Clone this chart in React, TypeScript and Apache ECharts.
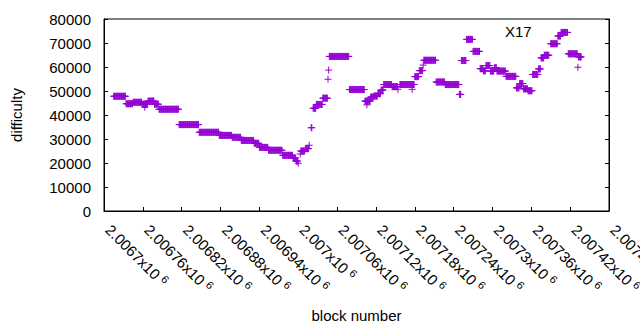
import React, { useEffect, useRef } from "react";
import * as echarts from "echarts";

// Runs of consecutive blocks sharing one difficulty: [firstBlock, lastBlock, difficulty]
const runs: [number, number, number][] = [
  [2006715, 2006733, 47800],
  [2006734, 2006744, 44700],
  [2006745, 2006758, 45300],
  [2006759, 2006767, 44500],
  [2006768, 2006777, 45800],
  [2006778, 2006784, 44500],
  [2006785, 2006815, 42400],
  [2006816, 2006846, 36000],
  [2006847, 2006877, 32800],
  [2006878, 2006897, 31500],
  [2006898, 2006911, 30700],
  [2006912, 2006931, 29400],
  [2006932, 2006939, 28200],
  [2006940, 2006953, 26500],
  [2006954, 2006975, 25300],
  [2006976, 2006991, 23200],
  [2006992, 2006996, 22000],
  [2006997, 2006999, 20800],
  [2007004, 2007010, 25000],
  [2007011, 2007016, 26000],
  [2007020, 2007021, 34700],
  [2007023, 2007027, 42800],
  [2007028, 2007037, 44400],
  [2007038, 2007045, 47000],
  [2007048, 2007078, 64400],
  [2007079, 2007102, 50600],
  [2007103, 2007111, 45800],
  [2007112, 2007116, 47500],
  [2007117, 2007122, 47900],
  [2007123, 2007127, 48900],
  [2007128, 2007131, 50400],
  [2007132, 2007144, 52700],
  [2007145, 2007153, 51800],
  [2007157, 2007179, 52700],
  [2007180, 2007186, 56000],
  [2007187, 2007192, 58500],
  [2007194, 2007212, 62800],
  [2007213, 2007226, 53750],
  [2007227, 2007248, 52700],
  [2007249, 2007251, 48600],
  [2007252, 2007259, 62700],
  [2007260, 2007269, 71500],
  [2007270, 2007280, 66500],
  [2007281, 2007285, 59300],
  [2007286, 2007289, 58400],
  [2007290, 2007296, 60600],
  [2007297, 2007302, 58300],
  [2007303, 2007306, 59700],
  [2007307, 2007320, 58300],
  [2007321, 2007336, 56100],
  [2007337, 2007341, 51300],
  [2007342, 2007347, 53100],
  [2007348, 2007354, 50900],
  [2007355, 2007361, 50100],
  [2007362, 2007370, 56900],
  [2007371, 2007374, 59200],
  [2007375, 2007379, 63800],
  [2007380, 2007387, 64900],
  [2007390, 2007400, 69700],
  [2007401, 2007405, 72900],
  [2007406, 2007416, 74400],
  [2007417, 2007431, 65500],
  [2007433, 2007437, 64200],
];

// Isolated blocks: [block, difficulty]
const singles: [number, number][] = [
  [2006763, 43300],
  [2007000, 19900],
  [2007003, 23750],
  [2007017, 27400],
  [2007046, 54900],
  [2007047, 58700],
  [2007106, 44200],
  [2007154, 50700],
  [2007176, 50700],
  [2007193, 60800],
  [2007432, 59900],
];

const X_MIN = 2006700;
const X_MAX = 2007480;
const X_STEP = 60;
const Y_MIN = 0;
const Y_MAX = 80000;
const Y_STEP = 10000;
const SERIES_NAME = "X17";

const PURPLE = "#9400d3";
const FONT = "Liberation Sans, Arial, sans-serif";
const PLUS = "path://M0,5L10,5M5,0L5,10";

function buildPoints(): [number, number][] {
  const pts: [number, number][] = [];
  runs.forEach(([s, e, d]) => {
    for (let b = s; b <= e; b++) pts.push([b, d]);
  });
  singles.forEach((p) => pts.push(p));
  return pts;
}

export default function App() {
  const ref = useRef<HTMLDivElement>(null);
  useEffect(() => {
    if (!ref.current) return;
    const chart = echarts.init(ref.current, undefined, { renderer: "svg" });
    const axisLine = { show: true, lineStyle: { color: "#000", width: 1 } };
    chart.setOption({
      animation: false,
      backgroundColor: "#fff",
      textStyle: { fontFamily: FONT },
      grid: {
        left: 104,
        right: 31,
        top: 19,
        bottom: 119,
        containLabel: false,
        outerBoundsMode: "none",
        show: true,
        borderColor: "#000",
        borderWidth: 1,
        backgroundColor: "transparent",
      },
      graphic: [
        {
          type: "text",
          left: 505,
          top: 24,
          style: {
            text: SERIES_NAME,
            fill: "#000",
            font: `15px ${FONT}`,
          },
        },
      ],
      xAxis: {
        type: "value",
        min: X_MIN,
        max: X_MAX,
        interval: X_STEP,
        name: "block number",
        nameLocation: "middle",
        nameGap: 97,
        nameTextStyle: { color: "#000", fontSize: 15, fontFamily: FONT },
        axisLine,
        axisTick: { show: true, inside: true, length: 4, lineStyle: { color: "#000" } },
        splitLine: { show: false },
        axisLabel: {
          rotate: -45,
          margin: 12,
          padding: [0, 0, 0, 6],
          color: "#000",
          fontSize: 15,
          fontFamily: FONT,
          hideOverlap: false,
          formatter: (v: number) => {
            const s = parseFloat((v / 1e6).toPrecision(6)).toString();
            return `${s}x10{sup|6}`;
          },
          rich: {
            sup: { fontSize: 11, fontFamily: FONT, color: "#000", padding: [0, 0, 7, 4] },
          },
        },
      },
      yAxis: [
        {
          type: "value",
          min: Y_MIN,
          max: Y_MAX,
          interval: Y_STEP,
          name: "difficulty",
          nameLocation: "middle",
          nameGap: 80,
          nameTextStyle: { color: "#000", fontSize: 15, fontFamily: FONT },
          axisLine,
          axisTick: { show: true, inside: true, length: 4, lineStyle: { color: "#000" } },
          splitLine: { show: false },
          axisLabel: {
            color: "#000",
            fontSize: 15,
            fontFamily: FONT,
            margin: 13,
            formatter: (v: number) => String(v),
          },
        },
        {
          type: "value",
          position: "right",
          min: Y_MIN,
          max: Y_MAX,
          interval: Y_STEP,
          axisLine,
          axisTick: { show: true, inside: true, length: 4, lineStyle: { color: "#000" } },
          splitLine: { show: false },
          axisLabel: { show: false },
        },
      ],
      series: [
        {
          name: SERIES_NAME,
          type: "scatter",
          data: buildPoints(),
          symbol: PLUS,
          symbolSize: 7,
          itemStyle: { color: PURPLE, borderColor: PURPLE, borderWidth: 1, opacity: 1 },
          emphasis: { disabled: true },
        },
      ],
    });
    return () => chart.dispose();
  }, []);
  return <div ref={ref} style={{ width: 640, height: 330, position: "absolute", left: 0, top: 0 }} />;
}
